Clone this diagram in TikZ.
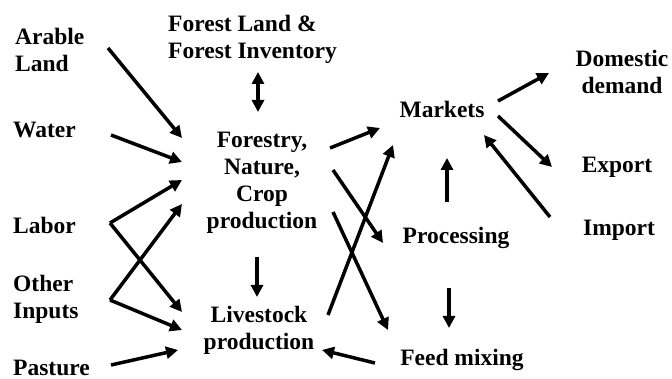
\documentclass[tikz,border=0pt]{standalone}
\usepackage{fontspec}
\setmainfont{Liberation Serif}
\usetikzlibrary{arrows.meta,calc}
\tikzset{
  lbl/.style={inner sep=0pt, font=\bfseries\fontsize{23.5}{27}\selectfont},
  arr/.style={line width=3.5pt, -{Triangle[length=12pt,width=12pt]}},
  darr/.style={line width=3.5pt, {Triangle[length=12pt,width=12pt]}-{Triangle[length=12pt,width=12pt]}}
}
\begin{document}
\begin{tikzpicture}[x=1pt,y=-1pt]
\useasboundingbox (0,0) rectangle (672,379);

% labels (multi-line labels are anchored at the baseline of their last line)
\node[lbl, anchor=base west, align=left] (arable) at (15,72) {Arable\\Land};
\node[lbl, anchor=base west, align=left] (forestinv) at (168,59) {Forest Land \&\\Forest Inventory};
\node[lbl, anchor=base west] (water) at (13,138) {Water};
\node[lbl, anchor=base, align=center] (forestry) at (262,229) {Forestry,\\Nature,\\Crop\\production};
\node[lbl, anchor=base west] (labor) at (13,234) {Labor};
\node[lbl, anchor=base west, align=left] (other) at (13,319) {Other\\Inputs};
\node[lbl, anchor=base west] (pasture) at (13,375) {Pasture};
\node[lbl, anchor=base, align=center] (livestock) at (259,349) {Livestock\\production};
\node[lbl, anchor=base] (markets) at (442,118) {Markets};
\node[lbl, anchor=base, align=center] (domestic) at (622,94) {Domestic\\demand};
\node[lbl, anchor=base] (export) at (617,173) {Export};
\node[lbl, anchor=base] (processing) at (456,244) {Processing};
\node[lbl, anchor=base] (import) at (619,236) {Import};
\node[lbl, anchor=base] (feed) at (462,365) {Feed mixing};

% inputs to production
\draw[arr] ($(arable.base west)+(93,-24)$) -- ($(forestry.base)+(-80,-91)$);
\draw[arr] ($(water.base west)+(98,-3)$) -- ($(forestry.base)+(-80,-67)$);
\draw[darr] ($(forestinv.base west)+(90,13)$) -- ($(forestry.base)+(-4,-117)$);
\draw[arr] ($(labor.base west)+(97,-11)$) -- ($(forestry.base)+(-80,-49)$);
\draw[arr] ($(labor.base west)+(97,-11)$) -- ($(livestock.base)+(-77,-37)$);
\draw[arr] ($(other.base west)+(97,-19)$) -- ($(forestry.base)+(-80,-25)$);
\draw[arr] ($(other.base west)+(97,-19)$) -- ($(livestock.base)+(-77,-19)$);
\draw[arr] ($(pasture.base west)+(98,-10)$) -- ($(livestock.base)+(-81,1)$);
\draw[arr] ($(forestry.base)+(-5,28)$) -- ($(livestock.base)+(-2,-52)$);

% production to markets, processing and feed
\draw[arr] ($(forestry.base)+(68,-81)$) -- ($(markets.base)+(-62,10)$);
\draw[arr] ($(forestry.base)+(71,-59)$) -- ($(processing.base)+(-73,-1)$);
\draw[arr] ($(forestry.base)+(71,-17)$) -- ($(feed.base)+(-74,-35)$);
\draw[arr] ($(livestock.base)+(69,-34)$) -- ($(markets.base)+(-49,27)$);
\draw[arr] ($(feed.base)+(-87,-2)$) -- ($(livestock.base)+(63,1)$);
\draw[arr] ($(processing.base)+(-9,-42)$) -- ($(markets.base)+(5,40)$);
\draw[arr] ($(processing.base)+(-7,44)$) -- ($(feed.base)+(-13,-37)$);

% trade
\draw[arr] ($(markets.base)+(56,-17)$) -- ($(domestic.base)+(-73,-21)$);
\draw[arr] ($(markets.base)+(56,-2)$) -- ($(export.base)+(-65,-6)$);
\draw[arr] ($(import.base)+(-69,-19)$) -- ($(markets.base)+(42,17)$);
\end{tikzpicture}
\end{document}
